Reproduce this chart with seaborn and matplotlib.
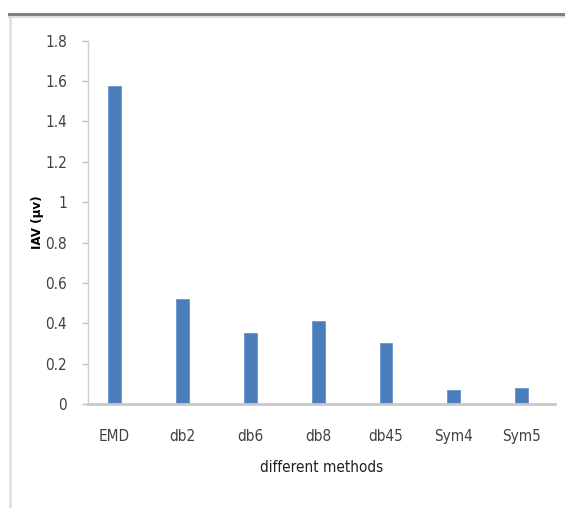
import matplotlib
matplotlib.use("Agg")
import matplotlib.pyplot as plt
import seaborn as sns
import pandas as pd
from matplotlib.patches import Rectangle

methods = ["EMD", "db2", "db6", "db8", "db45", "Sym4", "Sym5"]
iav = [1.574, 0.521, 0.352, 0.413, 0.304, 0.071, 0.078]
yticks = [0, 0.2, 0.4, 0.6, 0.8, 1, 1.2, 1.4, 1.6, 1.8]
ytick_labels = ["0", "0.2", "0.4", "0.6", "0.8", "1", "1.2", "1.4", "1.6", "1.8"]

df = pd.DataFrame({"method": methods, "iav": iav})

sns.set_style("white")
plt.rcParams["font.family"] = ["DejaVu Sans"]
plt.rcParams["font.stretch"] = "condensed"

fig = plt.figure(figsize=(5.65, 5.08), dpi=100)
ax = fig.add_axes([88 / 565, 1 - 404 / 508, (555 - 88) / 565, (404 - 40.7) / 508])

sns.barplot(data=df, x="method", y="iav", color="#4A7EBB", width=0.19,
            saturation=1, ax=ax, edgecolor="#5B8CC8", linewidth=0.5)

ax.set_xlim(-0.39, 6.49)
ax.set_ylim(0, 1.8)
ax.set_yticks(yticks)
ax.set_yticklabels(ytick_labels)

for s in ["top", "right"]:
    ax.spines[s].set_visible(False)
ax.spines["left"].set_color("#d0d0d0")
ax.spines["left"].set_linewidth(1.0)
ax.spines["bottom"].set_color("#c8c8c8")
ax.spines["bottom"].set_linewidth(2.0)

ax.tick_params(axis="y", which="major", direction="out", length=4, width=1,
               color="#bfbfbf", labelsize=11, labelcolor="#404040", pad=11, left=True)
ax.tick_params(axis="x", length=0, labelsize=11, labelcolor="#404040", pad=18)

ax.set_xlabel("different methods", fontsize=11, color="#202020")
ax.xaxis.set_label_coords(0.5, (404 - 468) / 363.3)
ax.xaxis.label.set_va("center")
ax.set_ylabel("IAV (μv)", fontsize=9.5, fontweight="bold", color="#000000")
ax.yaxis.set_label_coords((37 - 88) / 467, 0.5)
ax.yaxis.label.set_va("center")

# outer frame decorations
fig.add_artist(Rectangle((8 / 565, 1 - 16 / 508), 1 - 8 / 565, 3 / 508,
                         transform=fig.transFigure, facecolor="#808080", edgecolor="none"))
fig.add_artist(Rectangle((8 / 565, 1 - 18 / 508), 1 - 8 / 565, 2 / 508,
                         transform=fig.transFigure, facecolor="#dcdcdc", edgecolor="none"))
fig.add_artist(Rectangle((9 / 565, 0), 3 / 565, 1 - 18 / 508,
                         transform=fig.transFigure, facecolor="#e2e2e2", edgecolor="none"))

fig.savefig("out.png", dpi=100)
